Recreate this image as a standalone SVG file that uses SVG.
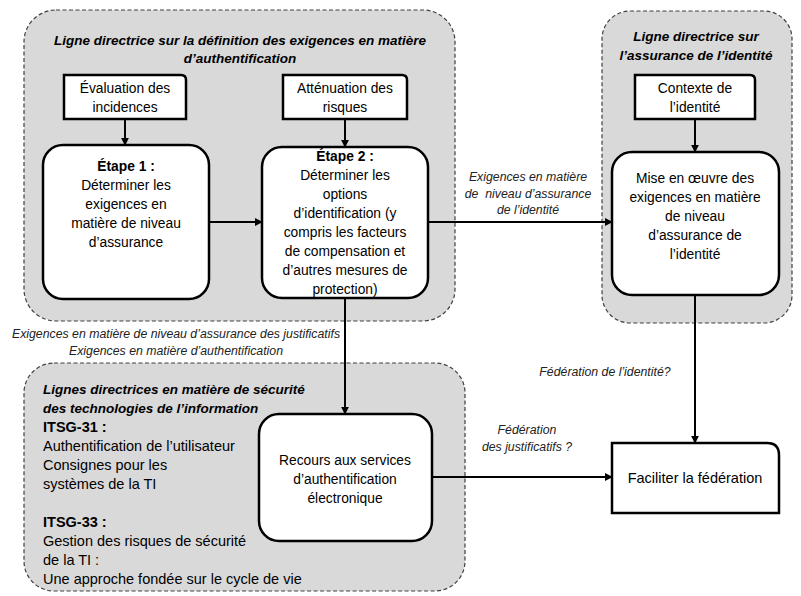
<svg xmlns="http://www.w3.org/2000/svg" width="801" height="596" viewBox="0 0 801 596">
<style>
text{font-family:"Liberation Sans",Arial,sans-serif;fill:#000}
.grp{fill:#d9d9d9;stroke:#404040;stroke-width:1.2;stroke-dasharray:4 2.5}
.box{fill:#fff;stroke:#000;stroke-width:2.5}
.t{font-size:13.8px;text-anchor:middle}
.b{font-weight:bold}
.gt{font-size:13.5px;font-weight:bold;font-style:italic}
.lbl{font-size:12.3px;font-style:italic;fill:#222;text-anchor:middle}
.body{font-size:14.5px}
.con{stroke:#000;stroke-width:2;fill:none;marker-end:url(#ah)}
</style>
<defs>
<marker id="ah" viewBox="0 0 10 10" refX="9" refY="5" markerWidth="4" markerHeight="4" orient="auto" markerUnits="strokeWidth">
<path d="M0,0 L10,5 L0,10 Z" fill="#000"/>
</marker>
</defs>
<rect width="801" height="596" fill="#fff"/>

<g id="grp-auth">
<rect class="grp" x="24" y="10" width="431" height="311" rx="32"/>
<text class="gt" x="240" y="45" text-anchor="middle">Ligne directrice sur la définition des exigences en matière</text>
<text class="gt" x="240" y="63" text-anchor="middle">d’authentification</text>
</g>
<g id="grp-identity">
<rect class="grp" x="602" y="11" width="190" height="312" rx="28"/>
<text class="gt" x="696" y="41" text-anchor="middle">Ligne directrice sur</text>
<text class="gt" x="696" y="60" text-anchor="middle">l’assurance de l’identité</text>
</g>
<g id="grp-itsg">
<rect class="grp" x="24" y="363" width="441" height="228" rx="30"/>
<text class="gt" x="43" y="394">Lignes directrices en matière de sécurité</text>
<text class="gt" x="43" y="413">des technologies de l’information</text>
<text class="body b" x="43" y="432">ITSG-31 :</text>
<text class="body" x="43" y="451">Authentification de l’utilisateur</text>
<text class="body" x="43" y="470">Consignes pour les</text>
<text class="body" x="43" y="489">systèmes de la TI</text>
<text class="body b" x="43" y="527">ITSG-33 :</text>
<text class="body" x="43" y="546">Gestion des risques de sécurité</text>
<text class="body" x="43" y="565">de la TI :</text>
<text class="body" x="43" y="584">Une approche fondée sur le cycle de vie</text>
</g>

<g id="connectors">
<path class="con" d="M125,119 V145"/>
<path class="con" d="M345,119 V147"/>
<path class="con" d="M695,119 V152"/>
<path class="con" d="M209,222 H262"/>
<path class="con" d="M428,222 H612"/>
<path class="con" d="M345,298 V414"/>
<path class="con" d="M695,295 V443"/>
<path class="con" d="M432,477 H612"/>
<text class="lbl" x="528" y="181">Exigences en matière</text>
<text class="lbl" x="528" y="198" xml:space="preserve">de  niveau d’assurance</text>
<text class="lbl" x="528" y="214">de l’identité</text>
<text class="lbl" x="176" y="338">Exigences en matière de niveau d’assurance des justificatifs</text>
<text class="lbl" x="176" y="355">Exigences en matière d’authentification</text>
<text class="lbl" x="605" y="376">Fédération de l’identité?</text>
<text class="lbl" x="527" y="434">Fédération</text>
<text class="lbl" x="527" y="451">des justificatifs ?</text>
</g>

<g id="evaluation">
<path class="box" d="M64,75 H181 Q186,75 186,80 V119 H64 Z"/>
<text class="t" x="125" y="93">Évaluation des</text>
<text class="t" x="125" y="112">incidences</text>
</g>
<g id="attenuation">
<path class="box" d="M283,75 H402 Q407,75 407,80 V119 H283 Z"/>
<text class="t" x="345" y="93">Atténuation des</text>
<text class="t" x="345" y="112">risques</text>
</g>
<g id="contexte">
<path class="box" d="M635,75 H750 Q755,75 755,80 V119 H635 Z"/>
<text class="t" x="695" y="93">Contexte de</text>
<text class="t" x="695" y="112">l’identité</text>
</g>
<g id="etape1">
<rect class="box" x="43" y="145" width="166" height="154" rx="20"/>
<text class="t b" x="126" y="171">Étape 1 :</text>
<text class="t" x="126" y="190">Déterminer les</text>
<text class="t" x="126" y="209">exigences en</text>
<text class="t" x="126" y="228">matière de niveau</text>
<text class="t" x="126" y="247">d’assurance</text>
</g>
<g id="etape2">
<rect class="box" x="262" y="147" width="166" height="151" rx="20"/>
<text class="t b" x="345" y="161">Étape 2 :</text>
<text class="t" x="345" y="180">Déterminer les</text>
<text class="t" x="345" y="199">options</text>
<text class="t" x="345" y="218">d’identification (y</text>
<text class="t" x="345" y="237">compris les facteurs</text>
<text class="t" x="345" y="256">de compensation et</text>
<text class="t" x="345" y="275">d’autres mesures de</text>
<text class="t" x="345" y="294">protection)</text>
</g>
<g id="mise-en-oeuvre">
<rect class="box" x="612" y="152" width="167" height="143" rx="20"/>
<text class="t" x="695" y="183">Mise en œuvre des</text>
<text class="t" x="695" y="202">exigences en matière</text>
<text class="t" x="695" y="221">de niveau</text>
<text class="t" x="695" y="240">d’assurance de</text>
<text class="t" x="695" y="259">l’identité</text>
</g>
<g id="recours">
<rect class="box" x="259" y="414" width="173" height="127" rx="20"/>
<text class="t" x="345" y="465">Recours aux services</text>
<text class="t" x="345" y="484">d’authentification</text>
<text class="t" x="345" y="503">électronique</text>
</g>
<g id="faciliter">
<path class="box" d="M612,443 H767 Q779,443 779,455 V513 H612 Z"/>
<text class="t" x="695" y="483" style="font-size:14.5px">Faciliter la fédération</text>
</g>
</svg>
